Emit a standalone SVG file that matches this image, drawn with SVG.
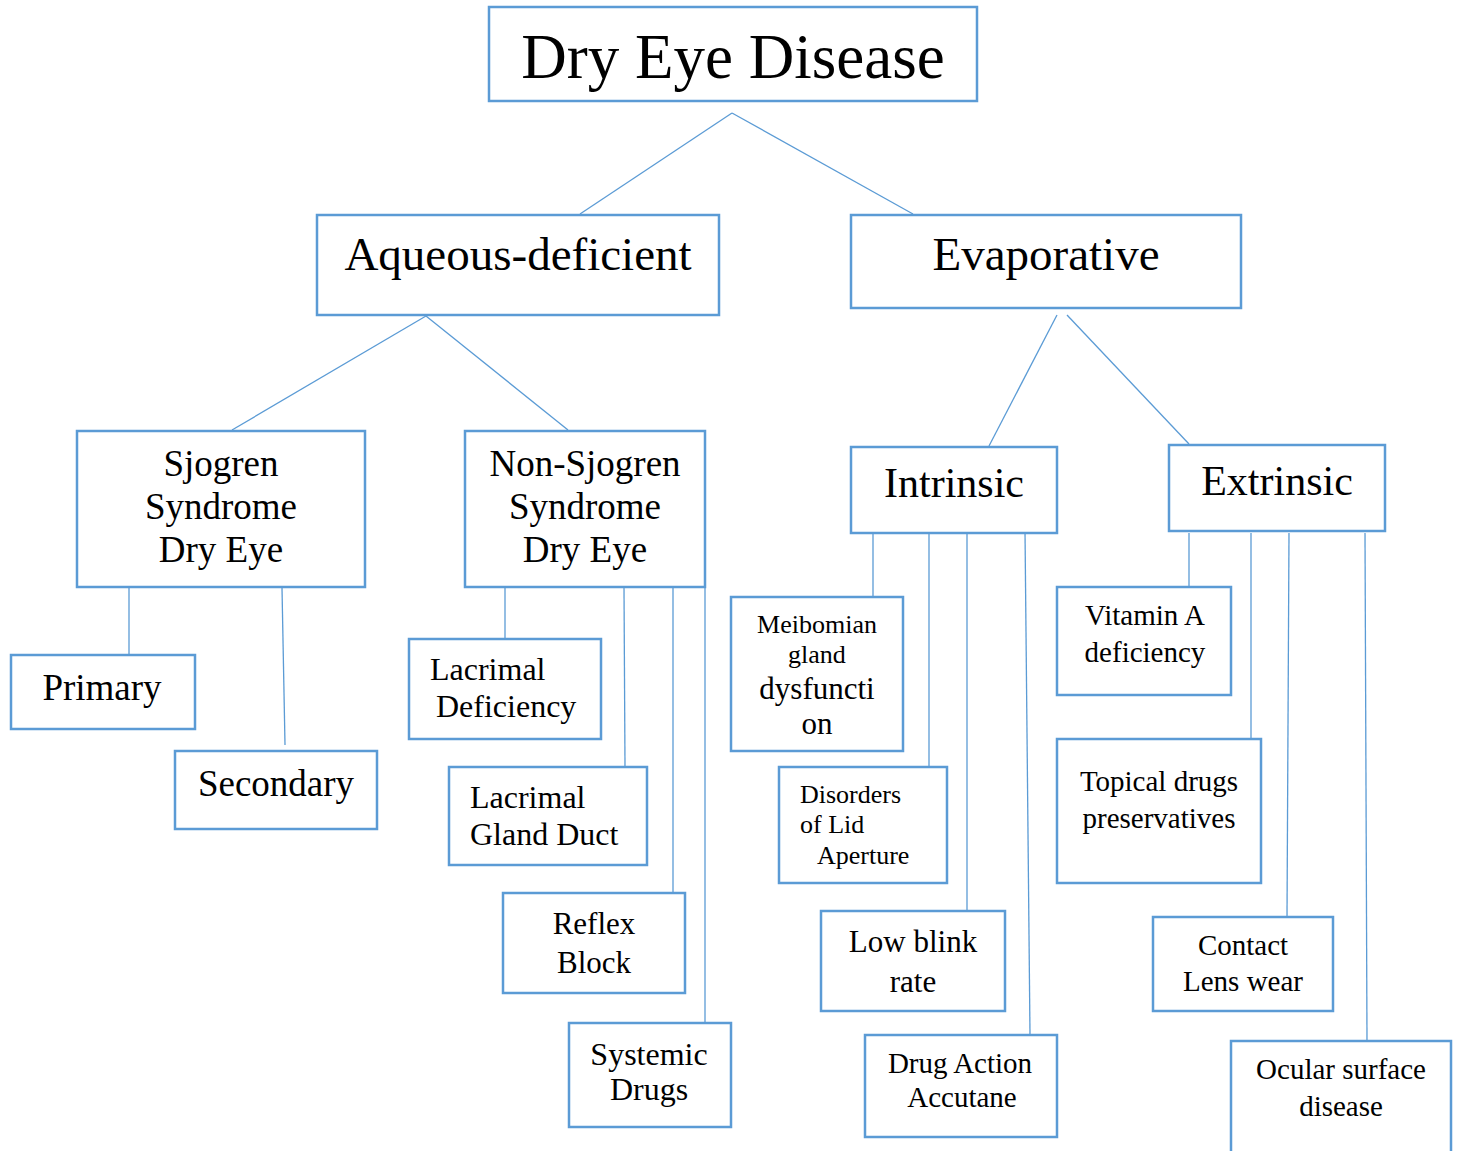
<svg xmlns="http://www.w3.org/2000/svg" width="1459" height="1151" viewBox="0 0 1459 1151">
<style>
.box{fill:#fff;stroke:#5B9BD5;stroke-width:2.5}
.c line{stroke:#5B9BD5;stroke-width:1.3}
text{font-family:"Liberation Serif","Times New Roman",serif;fill:#000}
.m{text-anchor:middle}
</style>
<rect width="1459" height="1151" fill="#fff"/>
<g class="c" id="connectors">
<line x1="732" y1="113" x2="580" y2="214"/>
<line x1="732" y1="113" x2="913" y2="214"/>
<line x1="426" y1="316" x2="232" y2="430"/>
<line x1="426" y1="316" x2="568" y2="430"/>
<line x1="1057" y1="315" x2="989" y2="446"/>
<line x1="1067" y1="315" x2="1189" y2="444"/>
<line x1="129" y1="588" x2="129" y2="655"/>
<line x1="282" y1="588" x2="285" y2="745"/>
<line x1="505" y1="588" x2="505" y2="639"/>
<line x1="624" y1="588" x2="625" y2="767"/>
<line x1="673" y1="588" x2="673" y2="893"/>
<line x1="705" y1="588" x2="705" y2="1023"/>
<line x1="873" y1="531" x2="873" y2="597"/>
<line x1="929" y1="533" x2="929" y2="767"/>
<line x1="967" y1="533" x2="967" y2="911"/>
<line x1="1025" y1="531" x2="1030" y2="1035"/>
<line x1="1189" y1="533" x2="1189" y2="587"/>
<line x1="1251" y1="533" x2="1251" y2="739"/>
<line x1="1289" y1="533" x2="1287" y2="917"/>
<line x1="1365" y1="533" x2="1367" y2="1041"/>
</g>
<g id="dry-eye-disease"><rect class="box" x="489" y="7" width="488" height="94"/><text class="m" x="733" y="78" font-size="63">Dry Eye Disease</text></g>
<g id="aqueous"><rect class="box" x="317" y="215" width="402" height="100"/><text class="m" x="518" y="270" font-size="47">Aqueous-deficient</text></g>
<g id="evaporative"><rect class="box" x="851" y="215" width="390" height="93"/><text class="m" x="1046" y="270" font-size="47">Evaporative</text></g>
<g id="sjogren"><rect class="box" x="77" y="431" width="288" height="156"/><text class="m" font-size="37"><tspan x="221" y="476">Sjogren</tspan><tspan x="221" y="519">Syndrome</tspan><tspan x="221" y="562">Dry Eye</tspan></text></g>
<g id="non-sjogren"><rect class="box" x="465" y="431" width="240" height="156"/><text class="m" font-size="37"><tspan x="585" y="476">Non-Sjogren</tspan><tspan x="585" y="519">Syndrome</tspan><tspan x="585" y="562">Dry Eye</tspan></text></g>
<g id="intrinsic"><rect class="box" x="851" y="447" width="206" height="86"/><text class="m" x="954" y="497" font-size="42">Intrinsic</text></g>
<g id="extrinsic"><rect class="box" x="1169" y="445" width="216" height="86"/><text class="m" x="1277" y="495" font-size="42">Extrinsic</text></g>
<g id="primary"><rect class="box" x="11" y="655" width="184" height="74"/><text class="m" x="102" y="700" font-size="37">Primary</text></g>
<g id="secondary"><rect class="box" x="175" y="751" width="202" height="78"/><text class="m" x="276" y="796" font-size="37">Secondary</text></g>
<g id="lacrimal-deficiency"><rect class="box" x="409" y="639" width="192" height="100"/><text font-size="32"><tspan x="430" y="680">Lacrimal</tspan><tspan x="436" y="717">Deficiency</tspan></text></g>
<g id="lacrimal-gland-duct"><rect class="box" x="449" y="767" width="198" height="98"/><text font-size="32"><tspan x="470" y="808">Lacrimal</tspan><tspan x="470" y="845">Gland Duct</tspan></text></g>
<g id="reflex-block"><rect class="box" x="503" y="893" width="182" height="100"/><text class="m" font-size="31"><tspan x="594" y="934">Reflex</tspan><tspan x="594" y="973">Block</tspan></text></g>
<g id="systemic-drugs"><rect class="box" x="569" y="1023" width="162" height="104"/><text class="m" font-size="32"><tspan x="649" y="1065">Systemic</tspan><tspan x="649" y="1100">Drugs</tspan></text></g>
<g id="meibomian"><rect class="box" x="731" y="597" width="172" height="154"/><text class="m"><tspan x="817" y="633" font-size="26">Meibomian</tspan><tspan x="817" y="663" font-size="26">gland</tspan><tspan x="817" y="699" font-size="31">dysfuncti</tspan><tspan x="817" y="734" font-size="31">on</tspan></text></g>
<g id="disorders-lid"><rect class="box" x="779" y="767" width="168" height="116"/><text font-size="26"><tspan x="800" y="803">Disorders</tspan><tspan x="800" y="833">of Lid</tspan><tspan x="817" y="864">Aperture</tspan></text></g>
<g id="low-blink"><rect class="box" x="821" y="911" width="184" height="100"/><text class="m" font-size="31"><tspan x="913" y="952">Low blink</tspan><tspan x="913" y="992">rate</tspan></text></g>
<g id="drug-action"><rect class="box" x="865" y="1035" width="192" height="102"/><text class="m" font-size="29"><tspan x="960" y="1073">Drug Action</tspan><tspan x="962" y="1107">Accutane</tspan></text></g>
<g id="vitamin-a"><rect class="box" x="1057" y="587" width="174" height="108"/><text class="m" font-size="29"><tspan x="1145" y="625">Vitamin A</tspan><tspan x="1145" y="662">deficiency</tspan></text></g>
<g id="topical-drugs"><rect class="box" x="1057" y="739" width="204" height="144"/><text class="m" font-size="29"><tspan x="1159" y="791">Topical drugs</tspan><tspan x="1159" y="828">preservatives</tspan></text></g>
<g id="contact-lens"><rect class="box" x="1153" y="917" width="180" height="94"/><text class="m" font-size="29"><tspan x="1243" y="955">Contact</tspan><tspan x="1243" y="991">Lens wear</tspan></text></g>
<g id="ocular-surface"><rect class="box" x="1231" y="1041" width="220" height="120"/><text class="m" font-size="29"><tspan x="1341" y="1079">Ocular surface</tspan><tspan x="1341" y="1116">disease</tspan></text></g>
</svg>
